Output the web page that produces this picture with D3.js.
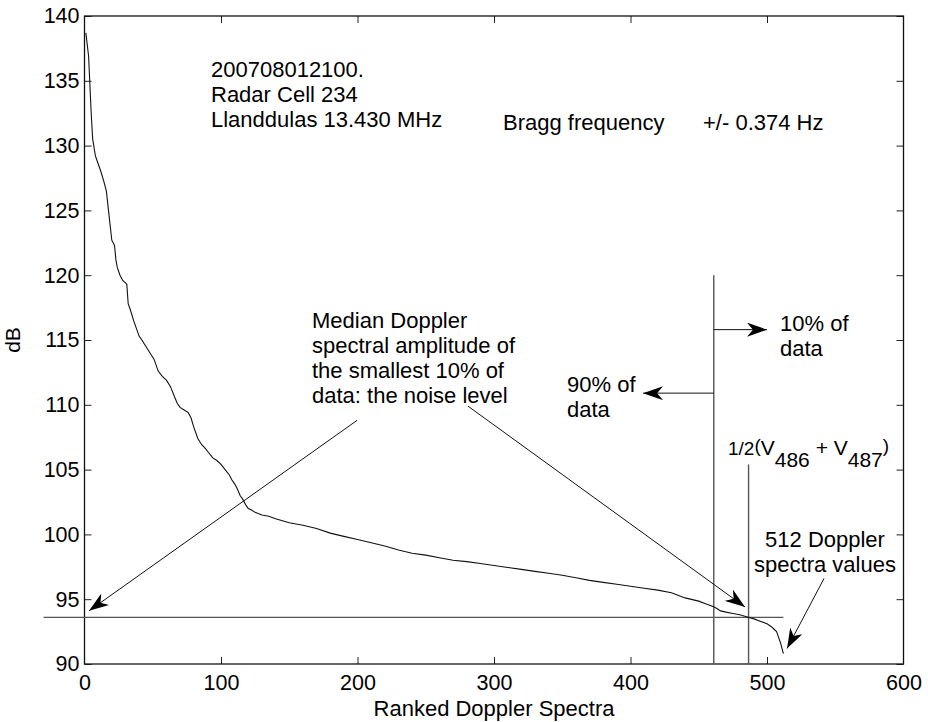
<!DOCTYPE html>
<html>
<head>
<meta charset="utf-8">
<script src="https://cdn.jsdelivr.net/npm/d3@7"></script>
<style>
  body { margin: 0; background: #fff; }
  text { font-family: "Liberation Sans", Arial, sans-serif; fill: #000; }
</style>
</head>
<body>
<svg id="chart" width="928" height="722"></svg>
<script>
// ranked doppler spectra
const ranks = [1, 2, 3, 4, 5, 6, 8, 10, 12, 14, 16, 18, 20, 22, 23, 24, 26, 28, 30, 31, 32, 34, 36, 38, 40, 42, 45, 48, 51, 54, 57, 60, 63, 66, 68, 70, 73, 76, 78, 80, 83, 86, 88, 91, 94, 97, 100, 103, 106, 108, 110, 112, 114, 116, 118, 120, 122, 125, 130, 135, 140, 150, 160, 170, 180, 190, 200, 210, 220, 230, 240, 250, 260, 270, 280, 290, 300, 310, 320, 330, 340, 350, 360, 370, 380, 390, 400, 410, 420, 430, 440, 450, 455, 460, 463, 466, 470, 475, 480, 485, 490, 495, 500, 503, 505, 507, 509, 510, 511, 512]
const dB = [138.7, 137.8, 136.9, 134.6, 132.3, 130.5, 129.2, 128.6, 128.0, 127.3, 126.5, 124.6, 122.7, 122.3, 121.2, 120.6, 120.0, 119.6, 119.4, 119.3, 117.8, 117.2, 116.5, 115.9, 115.3, 115.0, 114.5, 114.0, 113.5, 112.6, 112.2, 111.9, 111.4, 110.6, 110.1, 109.8, 109.6, 109.4, 109.0, 108.3, 107.4, 106.9, 106.7, 106.3, 105.9, 105.7, 105.4, 105.0, 104.6, 104.2, 103.9, 103.5, 103.0, 102.7, 102.3, 102.0, 101.9, 101.7, 101.5, 101.4, 101.2, 100.9, 100.7, 100.45, 100.1, 99.85, 99.6, 99.35, 99.1, 98.8, 98.55, 98.4, 98.2, 98.0, 97.9, 97.75, 97.6, 97.45, 97.3, 97.15, 97.0, 96.85, 96.65, 96.45, 96.3, 96.15, 96.0, 95.85, 95.7, 95.5, 95.1, 94.85, 94.65, 94.45, 94.3, 94.1, 94.0, 93.9, 93.8, 93.65, 93.5, 93.3, 93.1, 92.9, 92.7, 92.5, 91.9, 91.6, 91.2, 90.8]

const xTicks = [0, 100, 200, 300, 400, 500, 600]
const yTicks = [90, 95, 100, 105, 110, 115, 120, 125, 130, 135, 140]

const noiseLevel = 93.6
const rank90 = 461        // 90% of 512
const rankMedian = 486.5  // between v486 and v487
const medianTop = 105.4

const svg = d3.select("#chart")
const x = d3.scaleLinear().domain([0, 600]).range([84.5, 903.5])
const y = d3.scaleLinear().domain([90, 140]).range([664, 16])

// arrowhead like matlab's, notched at the back
svg.append("defs").append("marker")
    .attr("id", "head")
    .attr("viewBox", "0 0 20 14")
    .attr("markerUnits", "userSpaceOnUse")
    .attr("markerWidth", 20).attr("markerHeight", 14)
    .attr("refX", 20).attr("refY", 7)
    .attr("orient", "auto")
    .append("path")
    .attr("d", "M0,0 L20,7 L0,14 L6,7 Z")
    .attr("fill", "#000")

// axes, ticks pointing inward on all sides
const fmt = d3.format("d")
let gx = svg.append("g").attr("transform", `translate(0,${y(90)})`)
    .call(d3.axisBottom(x).tickValues(xTicks).tickFormat(fmt).tickSizeInner(-7).tickSizeOuter(0).tickPadding(11))
let gy = svg.append("g").attr("transform", `translate(${x(0)},0)`)
    .call(d3.axisLeft(y).tickValues(yTicks).tickFormat(fmt).tickSizeInner(-7).tickSizeOuter(0).tickPadding(5))
let gt = svg.append("g").attr("transform", `translate(0,${y(140)})`)
    .call(d3.axisTop(x).tickValues(xTicks).tickFormat("").tickSizeInner(-7).tickSizeOuter(0))
let gr = svg.append("g").attr("transform", `translate(${x(600)},0)`)
    .call(d3.axisRight(y).tickValues(yTicks).tickFormat("").tickSizeInner(-7).tickSizeOuter(0))
;[gx, gy, gt, gr].forEach(g => {
    g.selectAll(".domain").remove()
    g.selectAll("line").attr("stroke", "#222")
    g.selectAll("text").attr("font-size", 21.5).attr("font-family", '"Liberation Sans", Arial, sans-serif').attr("fill", "#000")
})
gt.selectAll(".tick:first-of-type, .tick:last-of-type").remove()
gx.selectAll(".tick line").filter(d => d === 0 || d === 600).remove()

svg.append("rect")
    .attr("x", x(0)).attr("y", y(140))
    .attr("width", x(600) - x(0)).attr("height", y(90) - y(140))
    .attr("fill", "none").attr("stroke", "#111").attr("stroke-width", 1.3)

// noise level and the two vertical markers
svg.append("line")
    .attr("x1", x(-30)).attr("x2", x(512))
    .attr("y1", y(noiseLevel)).attr("y2", y(noiseLevel))
    .attr("stroke", "#555").attr("stroke-width", 1.4)
svg.append("line")
    .attr("x1", x(rank90)).attr("x2", x(rank90))
    .attr("y1", y(120)).attr("y2", y(90))
    .attr("stroke", "#555").attr("stroke-width", 1.4)
svg.append("line")
    .attr("x1", x(rankMedian)).attr("x2", x(rankMedian))
    .attr("y1", y(medianTop)).attr("y2", y(90))
    .attr("stroke", "#555").attr("stroke-width", 1.4)

// the curve
let line = d3.line().x(d => x(d[0])).y(d => y(d[1]))
svg.append("path")
    .datum(ranks.map((r, i) => [r, dB[i]]))
    .attr("d", line)
    .attr("fill", "none").attr("stroke", "#111").attr("stroke-width", 1.1)

// arrows [x1, y1, x2, y2] in data units
const arrows = [
    [199.7, 108.8, 3.3, 94.1],
    [280.9, 109.9, 483.9, 94.4],
    [rank90, 115.8, 500, 115.8],
    [rank90, 110.9, 409.2, 110.9],
    [541.8, 96.6, 514.7, 91.2]
]
svg.selectAll(".arrow").data(arrows).enter().append("line")
    .attr("class", "arrow")
    .attr("x1", d => x(d[0])).attr("y1", d => y(d[1]))
    .attr("x2", d => x(d[2])).attr("y2", d => y(d[3]))
    .attr("stroke", "#111").attr("stroke-width", 1)
    .attr("marker-end", "url(#head)")

// text blocks
function block(lines, tx, ty, anchor) {
    let t = svg.append("text").attr("x", tx).attr("y", ty)
        .attr("font-size", 22).attr("text-anchor", anchor || "start")
    lines.forEach((s, i) => {
        t.append("tspan").attr("x", tx).attr("dy", i ? 25 : 0).text(s)
    })
}
block(["200708012100.", "Radar Cell 234", "Llanddulas 13.430 MHz"], 211, 77)
block(["Bragg frequency"], 503, 130)
block(["+/- 0.374 Hz"], 703, 130)
block(["Median Doppler", "spectral amplitude of", "the smallest 10% of", "data: the noise level"], 312, 328)
block(["10% of", "data"], 780, 331)
block(["90% of", "data"], 567, 392)
block(["512 Doppler", "spectra values"], 825, 547, "middle")

let f = svg.append("text").attr("x", 728).attr("y", 455).attr("font-size", 19)
f.append("tspan").text("1/2")
f.append("tspan").attr("dy", -3).text("(")
f.append("tspan").attr("dy", 3).attr("font-size", 21).text("V")
f.append("tspan").attr("dy", 12).attr("font-size", 21).text("486")
f.append("tspan").attr("dy", -12).attr("font-size", 21).text(" + V")
f.append("tspan").attr("dy", 12).attr("font-size", 21).text("487")
f.append("tspan").attr("dy", -15).text(")")

// axis titles
svg.append("text")
    .attr("x", x(300)).attr("y", 716)
    .attr("text-anchor", "middle").attr("font-size", 22)
    .text("Ranked Doppler Spectra")
svg.append("text")
    .attr("transform", `translate(20,${(y(90) + y(140)) / 2}) rotate(-90)`)
    .attr("text-anchor", "middle").attr("font-size", 21)
    .text("dB")
</script>
</body>
</html>
